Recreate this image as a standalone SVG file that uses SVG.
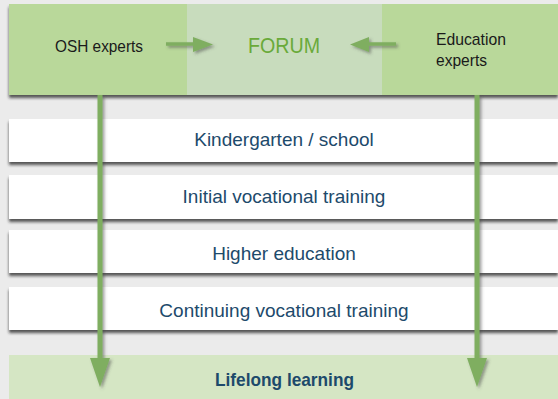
<svg xmlns="http://www.w3.org/2000/svg" width="558" height="399" viewBox="0 0 558 399">
<defs>
<filter id="sh" x="-5%" y="-20%" width="110%" height="150%">
<feDropShadow dx="0" dy="3" stdDeviation="1.8" flood-color="#222" flood-opacity="0.75"/>
</filter>
<filter id="ash" x="-50%" y="-10%" width="200%" height="120%">
<feDropShadow dx="2" dy="2" stdDeviation="1.5" flood-color="#444" flood-opacity="0.5"/>
</filter>
</defs>
<style>
.bar{fill:#ffffff}
.lbl{font-family:"Liberation Sans",Arial,sans-serif;font-size:19px;fill:#1d4a6b;text-anchor:middle}
.sm{font-family:"Liberation Sans",Arial,sans-serif;font-size:17px;fill:#1a1a1a}
.arr{stroke:#7fae60;fill:none}
.head{fill:#7fae60}
</style>
<rect width="558" height="399" fill="#ebebeb"/>
<g id="top" filter="url(#sh)">
<rect x="9" y="4" width="549" height="91" fill="#b9d89a"/>
<rect x="187" y="4" width="195" height="91" fill="#c8dcbd"/>
</g>
<g id="osh"><text class="sm" x="55" y="52" textLength="88" lengthAdjust="spacingAndGlyphs">OSH experts</text></g>
<g id="forum"><text x="248" y="53" font-family="Liberation Sans,Arial,sans-serif" font-size="22" fill="#6aaa3a" textLength="72" lengthAdjust="spacingAndGlyphs">FORUM</text></g>
<g id="edu"><text class="sm" x="436" y="45" textLength="70" lengthAdjust="spacingAndGlyphs">Education</text><text class="sm" x="436" y="66" textLength="51" lengthAdjust="spacingAndGlyphs">experts</text></g>
<g id="kg"><rect class="bar" x="9" y="119" width="549" height="43" filter="url(#sh)"/><text class="lbl" x="284" y="146">Kindergarten / school</text></g>
<g id="ivt"><rect class="bar" x="9" y="175" width="549" height="44" filter="url(#sh)"/><text class="lbl" x="284" y="203">Initial vocational training</text></g>
<g id="he"><rect class="bar" x="9" y="230" width="549" height="43" filter="url(#sh)"/><text class="lbl" x="284" y="260">Higher education</text></g>
<g id="cvt"><rect class="bar" x="9" y="287" width="549" height="43" filter="url(#sh)"/><text class="lbl" x="284" y="317">Continuing vocational training</text></g>
<g id="ll"><rect x="9" y="355" width="549" height="44" fill="#d5e6c4"/><text class="lbl" x="284.5" y="386" font-weight="bold" textLength="139" lengthAdjust="spacingAndGlyphs">Lifelong learning</text></g>
<g id="connectors" filter="url(#ash)">
<line class="arr" x1="166" y1="44" x2="195" y2="44" stroke-width="3.5"/>
<polygon class="head" points="193,37 213,44.5 193,52"/>
<line class="arr" x1="396" y1="44" x2="367" y2="44" stroke-width="3.5"/>
<polygon class="head" points="369,37 350,44.5 369,52"/>
<line class="arr" x1="100" y1="95" x2="100" y2="360" stroke-width="5"/>
<polygon class="head" points="90,358 110,358 100,387"/>
<line class="arr" x1="477" y1="95" x2="477" y2="360" stroke-width="5"/>
<polygon class="head" points="467,358 487,358 477,387"/>
</g>
</svg>
